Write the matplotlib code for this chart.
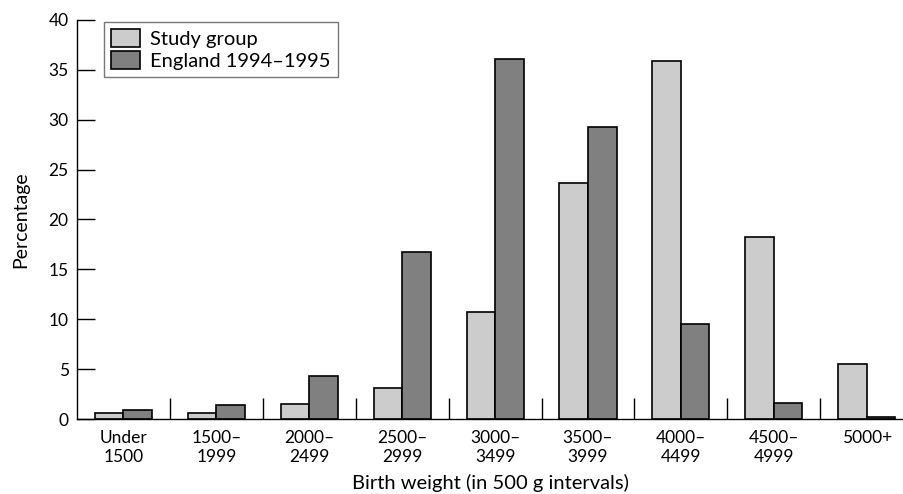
import matplotlib
matplotlib.use("Agg")
import matplotlib.pyplot as plt
import numpy as np

categories = ["Under\n1500", "1500–\n1999", "2000–\n2499", "2500–\n2999", "3000–\n3499",
              "3500–\n3999", "4000–\n4499", "4500–\n4999", "5000+"]
study_group = [0.6, 0.6, 1.5, 3.1, 10.7, 23.7, 35.9, 18.2, 5.5]
england = [0.9, 1.45, 4.35, 16.7, 36.1, 29.3, 9.5, 1.6, 0.2]
series_names = ["Study group", "England 1994–1995"]
yticks = [0, 5, 10, 15, 20, 25, 30, 35, 40]

plt.rcParams['font.family'] = ['Lato', 'DejaVu Sans']

fig = plt.figure(figsize=(9.04, 4.94), dpi=100)
ax = fig.add_axes([77/904, 1-419/494, (903-77)/904, (419-20)/494])

x = np.arange(len(categories))
w = 0.307
ax.bar(x - w/2, study_group, w, color="#cccccc", edgecolor="black", linewidth=1.2, label=series_names[0])
ax.bar(x + w/2, england, w, color="#808080", edgecolor="black", linewidth=1.2, label=series_names[1])

ax.set_xlim(-0.5, 8.39)
ax.set_ylim(0, 40)
ax.set_yticks(yticks)
ax.tick_params(axis='y', direction='in', length=13, width=1, labelsize=12.5, pad=6)
ax.set_xticks(x)
ax.set_xticklabels(categories, fontsize=12.5, linespacing=1.2)
ax.tick_params(axis='x', which='major', length=0, pad=8)
ax.set_xticks(np.arange(len(categories) - 1) + 0.5, minor=True)
ax.tick_params(axis='x', which='minor', direction='in', length=15, width=1)

for s in ['top', 'right']:
    ax.spines[s].set_visible(False)
ax.spines['left'].set_linewidth(1)
ax.spines['bottom'].set_linewidth(1)

ax.set_ylabel("Percentage", fontsize=14, labelpad=14)
ax.set_xlabel("Birth weight (in 500 g intervals)", fontsize=14.5, labelpad=7)

leg = ax.legend(loc='upper left', bbox_to_anchor=(25/826, 1.0), fontsize=14.5,
                frameon=True, fancybox=False, edgecolor="#555555",
                handlelength=1.45, handleheight=1.0, handletextpad=0.5,
                borderpad=0.35, labelspacing=0.15, borderaxespad=0.1)
leg.get_frame().set_linewidth(1)

fig.savefig("out.png", dpi=100)
